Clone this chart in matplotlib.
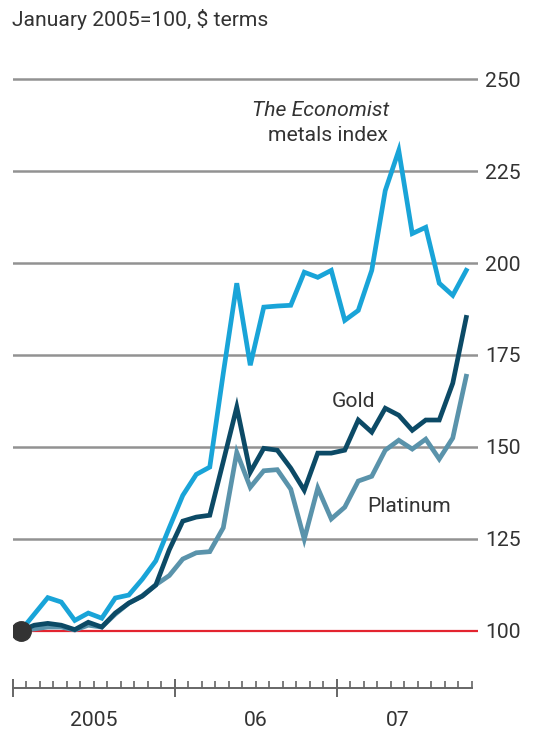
import numpy as np
import matplotlib
matplotlib.use('Agg')
import matplotlib.pyplot as plt
from matplotlib.ticker import FixedLocator

# monthly values, Jan 2005 to Oct 2007, Jan 2005=100
metals = [100, 104.5, 109, 107.8, 102.8, 104.8, 103.4, 108.9, 109.7, 114, 119, 128,
          136.8, 142.5, 144.5, 170, 194.5, 172.2, 188, 188.3, 188.5, 197.5, 196.1, 198,
          184.4, 187.1, 198, 219.7, 230.6, 208, 209.7, 194.5, 191.2, 198]
gold = [100, 101.5, 102, 101.5, 100.3, 102.3, 101, 104.8, 107.5, 109.4, 112.4, 122,
        129.8, 130.9, 131.4, 146, 160.8, 143.1, 149.6, 149.1, 144.2, 138.2, 148.3, 148.3,
        149.1, 157.3, 154, 160.5, 158.6, 154.5, 157.3, 157.3, 167.3, 185.2]
platinum = [100, 100.5, 101, 101, 100.2, 101.5, 101, 104.5, 107.5, 109.5, 112.5, 115,
            119.5, 121.2, 121.5, 128, 148.5, 139, 143.5, 143.8, 138.5, 124.9, 138.8, 130.4,
            133.6, 140.7, 142, 149.1, 151.8, 149.4, 152.1, 146.7, 152.4, 169.2]
yticks = [100, 125, 150, 175, 200, 225, 250]
years = ['2005', '06', '07']
year_pos = [6, 18, 28.5]

months = np.arange(len(metals)) + 0.6
txt = '#333333'
subtitle = 'January 2005=100, $ terms'

fig = plt.figure(figsize=(5.33, 7.34), dpi=100)

# pick the narrowest of the installed sans faces, then size it so the
# subtitle is about as wide as in the original (~255 px)
title = fig.text(12 / 533, 1 - 26 / 734, subtitle, ha='left', va='baseline',
                 fontsize=17.5, color=txt)
best = None
for fam in ['Roboto', 'Liberation Sans', 'Lato', 'Open Sans', 'Noto Sans', 'DejaVu Sans']:
    title.set_family(fam)
    fig.canvas.draw()
    w = title.get_window_extent().width
    if best is None or w < best[1]:
        best = (fam, w)
fam = best[0]
fs = min(19, 17.5 * 255 / best[1])
title.set_family(fam)
title.set_fontsize(fs)
plt.rcParams['font.family'] = [fam, 'DejaVu Sans']
plt.rcParams['font.size'] = fs

ax = fig.add_axes([0.0238, 0.0627, 0.873, 0.842])
ax.set_xlim(0, 34.47)
ax.set_ylim(84.43, 252.5)

for v in yticks:
    if v == 100:
        ax.plot([months[0], 34.47], [v, v], color='#e3242f', lw=1.6, zorder=1)
    else:
        ax.axhline(v, color='#929292', lw=1.8, zorder=1)

ax.plot(months, platinum, color='#5a93ab', lw=3.4, zorder=3, solid_joinstyle='miter')
ax.plot(months, gold, color='#0c4a66', lw=3.4, zorder=4, solid_joinstyle='miter')
ax.plot(months, metals, color='#19a4d8', lw=3.4, zorder=5, solid_joinstyle='miter')
ax.plot(months[0], 100, 'o', ms=14, color='#333333', zorder=6)

for s in ['top', 'left', 'right']:
    ax.spines[s].set_visible(False)
ax.spines['bottom'].set_bounds(0, 34)
ax.spines['bottom'].set_color('#666666')
ax.spines['bottom'].set_linewidth(1.4)

ax.xaxis.set_major_locator(FixedLocator([0, 12, 24]))
ax.xaxis.set_minor_locator(FixedLocator([m for m in range(1, 35) if m not in (12, 24)]))
ax.tick_params(axis='x', which='major', direction='inout', length=13, width=1.4,
               color='#666666', labelbottom=False)
ax.tick_params(axis='x', which='minor', direction='in', length=5, width=1.2,
               color='#666666')

ax.yaxis.tick_right()
ax.set_yticks(yticks)
ax.tick_params(axis='y', length=0, pad=5, labelcolor=txt, labelsize=fs)

for lab, p in zip(years, year_pos):
    ax.text(p, 75.5, lab, ha='center', va='center', fontsize=fs, color=txt,
            clip_on=False)

ax.text(27.87, 240.1, 'The Economist', ha='right', va='baseline', fontsize=fs,
        style='italic', color=txt)
ax.text(27.8, 233.3, 'metals index', ha='right', va='baseline', fontsize=fs, color=txt)
ax.text(23.65, 160.8, 'Gold', ha='left', va='baseline', fontsize=fs, color=txt)
ax.text(26.3, 132.3, 'Platinum', ha='left', va='baseline', fontsize=fs, color=txt)

fig.savefig('out.png', dpi=100)
